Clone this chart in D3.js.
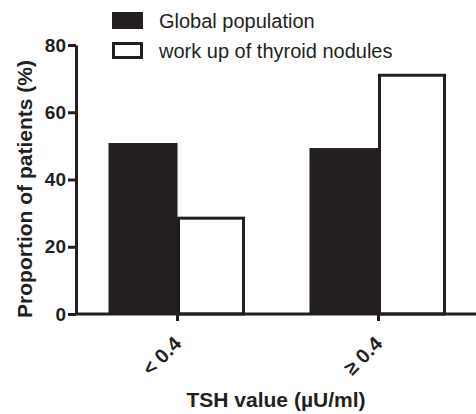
<!DOCTYPE html>
<html>
  <head>
    <style>
      body { margin: 0; background: #fff; }
      svg { font-family: "Liberation Sans", Arial, sans-serif; }
      .axis path, .axis line { stroke: #231f20; stroke-width: 3; fill: none; }
      .axis text { font-size: 19px; font-weight: bold; fill: #231f20; }
      .x-ticks text { font-size: 20px; }
      .axis-label { font-size: 21px; font-weight: bold; fill: #231f20; text-anchor: middle; }
      .legend-text { font-size: 20px; fill: #231f20; }
    </style>
  </head>
  <body>
    <div id="chart"></div>
    <script src="https://d3js.org/d3.v7.min.js"></script>
    <script>
      const categories = ["< 0.4", "\u2265 0.4"];
      const seriesNames = ["Global population", "work up of thyroid nodules"];
      const globalPopulation = [50.7, 49.2];
      const thyroidNodules = [28.5, 71.0];
      const yTicks = [0, 20, 40, 60, 80];

      const colors = ["#231f20", "#ffffff"];
      const ink = "#231f20";

      const svg = d3.select("#chart").append("svg")
        .attr("width", 476).attr("height", 414);

      const x = d3.scaleBand().domain(categories).range([77, 479]).padding(0);
      const inner = d3.scaleBand().domain(seriesNames)
        .range([32, x.bandwidth() - 33]).padding(0);
      const y = d3.scaleLinear().domain([0, 80]).range([314, 45]);

      const rows = categories.map((c, i) => ({
        cat: c,
        values: [globalPopulation[i], thyroidNodules[i]]
      }));

      // bars
      const groups = svg.selectAll(".grp").data(rows).enter().append("g")
        .attr("transform", d => "translate(" + x(d.cat) + ",0)");
      groups.selectAll("rect")
        .data(d => d.values.map((v, k) => ({ key: seriesNames[k], v: v, k: k })))
        .enter().append("rect")
        .attr("x", d => inner(d.key) + (d.k === 1 ? 1.5 : 0))
        .attr("width", d => inner.bandwidth() - (d.k === 1 ? 3 : 0))
        .attr("y", d => y(d.v))
        .attr("height", d => y(0) - y(d.v))
        .attr("fill", d => colors[d.k])
        .attr("stroke", ink)
        .attr("stroke-width", d => d.k === 1 ? 3 : 1);

      // y axis
      svg.append("g").attr("class", "axis")
        .attr("transform", "translate(76,0)")
        .call(d3.axisLeft(y).tickValues(yTicks).tickSize(8).tickSizeOuter(0).tickPadding(2));

      // x axis
      const xa = svg.append("g").attr("class", "axis x-ticks")
        .attr("transform", "translate(0,314)")
        .call(d3.axisBottom(x).tickSize(7).tickSizeOuter(0));
      xa.select(".domain").attr("d", "M76,0H476");
      xa.selectAll("text")
        .attr("text-anchor", "end")
        .attr("dy", 0)
        .attr("transform", "translate(5,31) rotate(-45)")
        .attr("y", 0).attr("x", 0);

      // axis titles
      svg.append("text").attr("class", "axis-label")
        .attr("x", 276).attr("y", 407)
        .text("TSH value (\u00b5U/ml)");
      svg.append("text").attr("class", "axis-label")
        .attr("transform", "translate(32,189) rotate(-90)")
        .text("Proportion of patients (%)");

      // legend
      const legend = svg.selectAll(".leg").data(seriesNames).enter().append("g")
        .attr("transform", (d, i) => "translate(0," + (i * 30) + ")");
      legend.append("rect")
        .attr("x", (d, i) => i === 1 ? 113.5 : 112)
        .attr("y", (d, i) => i === 1 ? 13.5 : 12)
        .attr("width", (d, i) => i === 1 ? 28 : 31)
        .attr("height", (d, i) => i === 1 ? 14 : 17)
        .attr("fill", (d, i) => colors[i])
        .attr("stroke", ink)
        .attr("stroke-width", (d, i) => i === 1 ? 3 : 0);
      legend.append("text").attr("class", "legend-text")
        .attr("x", 159).attr("y", 28)
        .text(d => d);
    </script>
  </body>
</html>
